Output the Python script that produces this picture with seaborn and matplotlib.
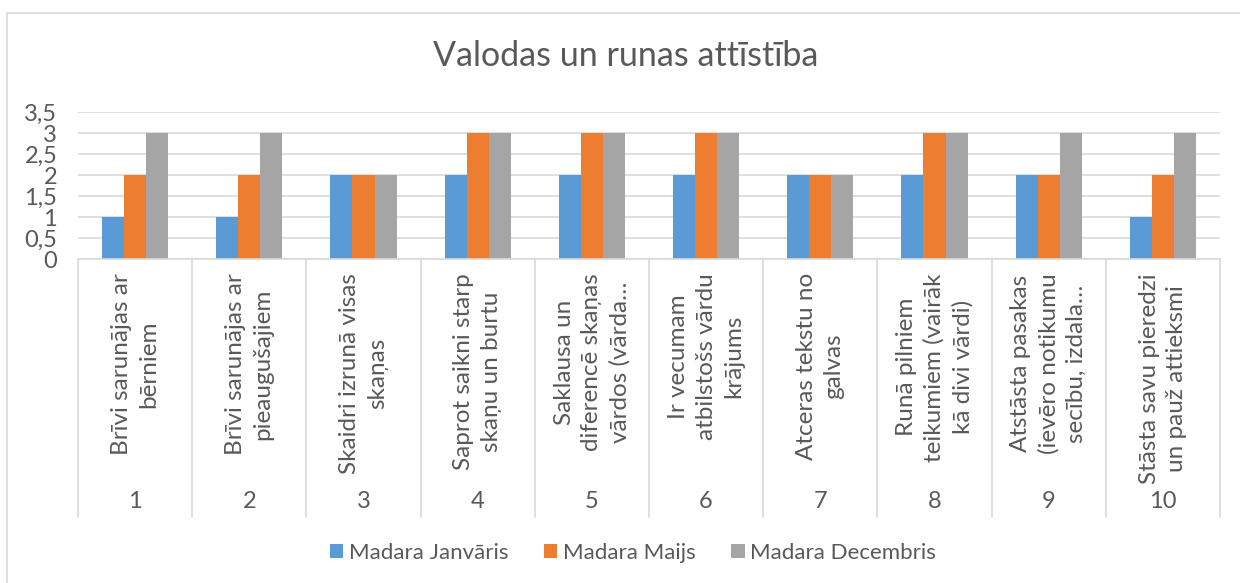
import matplotlib
matplotlib.use("Agg")
import matplotlib.pyplot as plt
import matplotlib.transforms as mtransforms
from matplotlib.patches import Patch, Rectangle
from matplotlib.lines import Line2D
import numpy as np
import pandas as pd
import seaborn as sns

# ---- data ----
title = "Valodas un runas attīstība"
cat_numbers = ["1", "2", "3", "4", "5", "6", "7", "8", "9", "10"]
cat_labels = [
    "Brīvi sarunājas ar\nbērniem",
    "Brīvi sarunājas ar\npieaugušajiem",
    "Skaidri izrunā visas\nskaņas",
    "Saprot saikni starp\nskaņu un burtu",
    "Saklausa un\ndiferencē skaņas\nvārdos (vārda…",
    "Ir vecumam\natbilstošs vārdu\nkrājums",
    "Atceras tekstu no\ngalvas",
    "Runā pilniem\nteikumiem (vairāk\nkā divi vārdi)",
    "Atstāsta pasakas\n(ievēro notikumu\nsecību, izdala…",
    "Stāsta savu pieredzi\nun pauž attieksmi",
]
series = ["Madara Janvāris", "Madara Maijs", "Madara Decembris"]
jan = [1, 1, 2, 2, 2, 2, 2, 2, 2, 1]
maijs = [2, 2, 2, 3, 3, 3, 2, 3, 2, 2]
dec = [3, 3, 2, 3, 3, 3, 2, 3, 3, 3]
yticks = [0, 0.5, 1, 1.5, 2, 2.5, 3, 3.5]
ytick_labels = ["0", "0,5", "1", "1,5", "2", "2,5", "3", "3,5"]
colors = ["#5B9BD5", "#ED7D31", "#A5A5A5"]

rows = []
for s, vals in zip(series, [jan, maijs, dec]):
    for n, v in zip(cat_numbers, vals):
        rows.append({"Nr": n, "Vērtība": v, "Sērija": s})
df = pd.DataFrame(rows)

# ---- style ----
sns.set_theme(style="white")
plt.rcParams["font.family"] = ["Lato", "DejaVu Sans"]
txt = "#595959"
grid = "#D9D9D9"
W, H = 1240, 583

fig = plt.figure(figsize=(W / 100, H / 100), dpi=100)
fig.patch.set_facecolor("white")
ax = fig.add_axes([78 / W, 1 - 259 / H, (1220 - 78) / W, (259 - 112) / H])

sns.barplot(data=df, x="Nr", y="Vērtība", hue="Sērija", order=cat_numbers,
            hue_order=series, palette=colors, width=0.58, saturation=1,
            linewidth=0, ax=ax, legend=False)

ax.set_xlim(-0.5, len(cat_numbers) - 0.5)
ax.set_ylim(0, 3.5)
ax.set_yticks(yticks)
ax.set_yticklabels(ytick_labels)
ax.set_xticks([])
ax.set_xlabel("")
ax.set_ylabel("")
ax.yaxis.grid(True, color=grid, lw=1.2)
ax.set_axisbelow(True)
for sp in ["top", "left", "right"]:
    ax.spines[sp].set_visible(False)
ax.spines["bottom"].set_color(grid)
ax.spines["bottom"].set_linewidth(1.2)
ax.tick_params(axis="y", length=0, pad=15, labelsize=17, labelcolor=txt)

# multi-level category axis
trans = mtransforms.blended_transform_factory(ax.transData, fig.transFigure)
for i, (lab, num) in enumerate(zip(cat_labels, cat_numbers)):
    ax.text(i, 1 - 273 / H, lab, transform=trans, rotation=90, ha="center",
            va="top", multialignment="center", fontsize=17.5, color=txt,
            linespacing=1.38, clip_on=False)
    ax.text(i, 1 - 502 / H, num, transform=trans, ha="center", va="center",
            fontsize=17, color=txt, clip_on=False)
for b in np.arange(-0.5, len(cat_numbers), 1.0):
    ax.add_line(Line2D([b, b], [1 - 259 / H, 1 - 517 / H], transform=trans,
                       color=grid, lw=1.2, clip_on=False))

# title
fig.text(626 / W, 1 - 56 / H, title, ha="center", va="center",
         fontsize=24.5, color=txt)

# legend
handles = [Patch(facecolor=c, edgecolor="none") for c in colors]
fig.legend(handles, series, loc="center", bbox_to_anchor=(633 / W, 1 - 553 / H),
           ncol=3, frameon=False, fontsize=16, handlelength=0.6,
           handleheight=0.6, handletextpad=0.25, columnspacing=1.6,
           labelcolor=txt)

# chart border
fig.add_artist(Rectangle((7 / W, -0.1), 2, (1 - 13 / H) + 0.1,
                         transform=fig.transFigure, fill=False,
                         edgecolor=grid, lw=1.2))

fig.savefig("out.png", dpi=100)
